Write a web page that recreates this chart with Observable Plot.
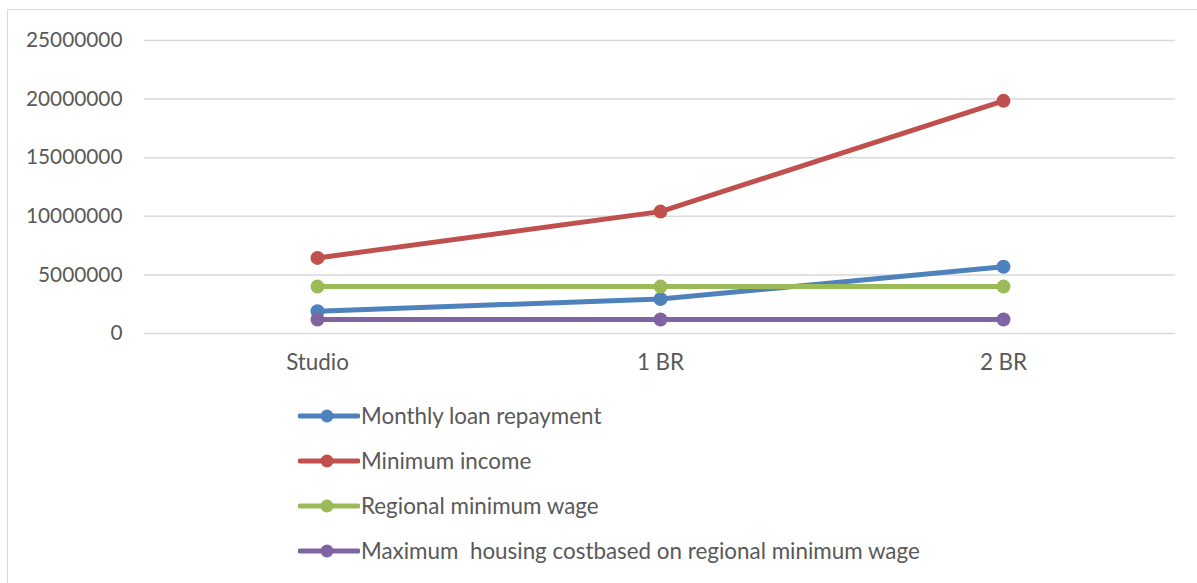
<!DOCTYPE html>
<html>
<head>
<meta charset="utf-8">
<script src="https://cdn.jsdelivr.net/npm/d3@7"></script>
<script src="https://cdn.jsdelivr.net/npm/@observablehq/plot@0.6"></script>
<style>
  html, body { margin: 0; padding: 0; background: #fff; }
  body { width: 1197px; height: 583px; position: relative; overflow: hidden; font-family: Lato, "Open Sans", sans-serif; }
  #frame { position: absolute; left: 7px; top: 9px; right: -2px; bottom: -2px; border-left: 1.5px solid #d9d9d9; border-top: 1.5px solid #d9d9d9; }
  #chart { position: absolute; left: 0; top: 0; }
  #legend { position: absolute; left: 298px; top: 393px; }
  .row { display: flex; align-items: center; height: 45px; font-size: 22.4px; color: #595959; white-space: pre; }
  .row svg { margin-right: 1px; }
  .xax text { font-size: 22.4px; }
</style>
</head>
<body>
<div id="frame"></div>
<div id="chart"></div>
<div id="legend"></div>
<script>
const categories = ["Studio", "1 BR", "2 BR"];
const seriesNames = [
  "Monthly loan repayment",
  "Minimum income",
  "Regional minimum wage",
  "Maximum  housing costbased on regional minimum wage"
];
const monthlyLoan = [1900000, 2950000, 5700000];
const minimumIncome = [6450000, 10400000, 19850000];
const regionalWage = [4000000, 4000000, 4000000];
const maxHousing = [1200000, 1200000, 1200000];
const seriesColors = ["#4F81BD", "#C0504D", "#9BBB59", "#8064A2"];
const yTicks = [0, 5000000, 10000000, 15000000, 20000000, 25000000];

const seriesValues = [monthlyLoan, minimumIncome, regionalWage, maxHousing];
const data = [];
seriesNames.forEach((s, i) => {
  categories.forEach((c, j) => data.push({ series: s, cat: c, value: seriesValues[i][j] }));
});

const chart = Plot.plot({
  width: 1197,
  height: 383,
  marginTop: 40,
  marginBottom: 50,
  marginLeft: 144,
  marginRight: 22,
  style: { fontFamily: "Lato, 'Open Sans', sans-serif", fontSize: "20.8px", color: "#595959", background: "transparent" },
  x: { type: "point", domain: categories, padding: 0.5, label: null },
  y: { domain: [0, 25000000], label: null },
  color: { domain: seriesNames, range: seriesColors },
  marks: [
    Plot.gridY(yTicks, { stroke: "#d9d9d9", strokeOpacity: 1, strokeWidth: 1.5 }),
    Plot.axisY(yTicks, { tickSize: 0, tickPadding: 22, tickFormat: d => String(d), label: null, fill: "#595959" }),
    Plot.axisX({ tickSize: 0, tickPadding: 21, label: null, fill: "#595959", className: "xax" }),
    Plot.line(data, { x: "cat", y: "value", z: "series", stroke: "series", strokeWidth: 5, strokeLinecap: "round" }),
    Plot.dot(data, { x: "cat", y: "value", fill: "series", r: 7 })
  ]
});
document.getElementById("chart").appendChild(chart);

const legend = document.getElementById("legend");
seriesNames.forEach((s, i) => {
  const row = document.createElement("div");
  row.className = "row";
  row.innerHTML = `<svg width="62" height="16"><line x1="2" y1="8" x2="60" y2="8" stroke="${seriesColors[i]}" stroke-width="5" stroke-linecap="round"/><circle cx="29" cy="8" r="6.5" fill="${seriesColors[i]}"/></svg>`;
  const span = document.createElement("span");
  span.textContent = s;
  row.appendChild(span);
  legend.appendChild(row);
});
</script>
</body>
</html>
